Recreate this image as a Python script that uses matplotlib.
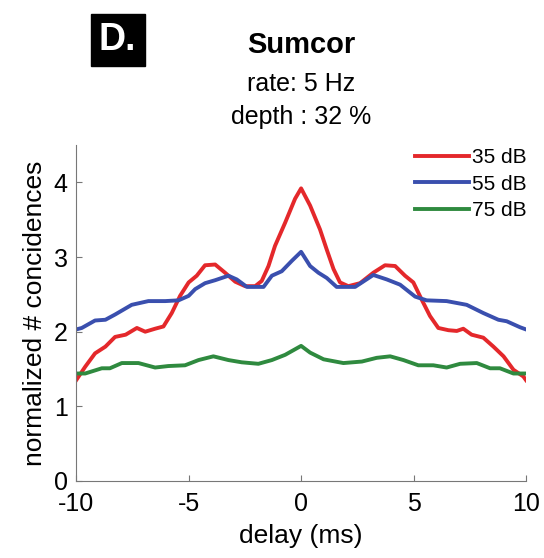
import matplotlib.pyplot as plt
import numpy as np

# delay axis (ms) and coincidence curves
x35 = [-10, -9.6, -9.16, -8.7, -8.27, -7.8, -7.3, -6.93, -6.49, -6.12, -5.75, -5.38, -5.0, -4.64,
       -4.27, -3.82, -3.38, -2.93, -2.49, -2.04, -1.75, -1.45, -1.16, -0.71, -0.27, 0.0,
       0.4, 0.84, 1.14, 1.44, 1.73, 2.1, 2.62, 3.21, 3.73, 4.18, 4.62, 4.99, 5.36, 5.73,
       6.1, 6.55, 6.92, 7.21, 7.58, 8.1, 8.55, 9.0, 9.44, 9.88, 10]
y35 = [1.35, 1.53, 1.71, 1.80, 1.93, 1.96, 2.05, 2.00, 2.04, 2.07, 2.25, 2.48, 2.66, 2.75,
       2.89, 2.90, 2.79, 2.67, 2.61, 2.61, 2.68, 2.88, 3.15, 3.46, 3.78, 3.92,
       3.69, 3.37, 3.10, 2.84, 2.66, 2.61, 2.65, 2.79, 2.89, 2.88, 2.75, 2.66, 2.43, 2.21,
       2.05, 2.02, 2.01, 2.04, 1.96, 1.92, 1.80, 1.67, 1.49, 1.40, 1.35]

x55 = [-10, -9.75, -9.16, -8.7, -8.27, -7.53, -6.79, -6.04, -5.45, -5.0, -4.71, -4.27, -3.82,
       -3.23, -2.86, -2.41, -2.04, -1.67, -1.3, -0.86, -0.41, 0.0,
       0.4, 0.77, 1.14, 1.58, 2.4, 3.21, 3.81, 4.4, 5.07, 5.58, 6.47, 7.36, 8.1, 8.77,
       9.14, 9.73, 10]
y55 = [2.03, 2.05, 2.15, 2.16, 2.23, 2.36, 2.41, 2.41, 2.42, 2.48, 2.57, 2.65, 2.69,
       2.75, 2.70, 2.60, 2.60, 2.60, 2.75, 2.81, 2.95, 3.07,
       2.88, 2.79, 2.72, 2.60, 2.60, 2.76, 2.70, 2.63, 2.47, 2.42, 2.41, 2.36, 2.25, 2.16,
       2.14, 2.06, 2.03]

x75 = [-10, -9.6, -8.86, -8.5, -7.97, -7.23, -6.49, -5.9, -5.16, -4.56, -3.9, -3.23, -2.64,
       -1.9, -1.3, -0.71, 0.0,
       0.4, 1.0, 1.88, 2.7, 3.36, 3.96, 4.55, 5.21, 5.88, 6.47, 7.07, 7.81, 8.4, 8.84,
       9.44, 10]
y75 = [1.44, 1.44, 1.51, 1.51, 1.58, 1.58, 1.52, 1.54, 1.55, 1.62, 1.67, 1.62, 1.59,
       1.57, 1.62, 1.69, 1.81,
       1.72, 1.63, 1.58, 1.60, 1.65, 1.67, 1.62, 1.55, 1.55, 1.52, 1.57, 1.58, 1.51, 1.51,
       1.44, 1.44]

plt.rcParams['font.family'] = ['Liberation Sans', 'DejaVu Sans']
plt.rcParams['axes.unicode_minus'] = False

fig = plt.figure(figsize=(5.44, 5.58), dpi=100)
ax = fig.add_axes([0.140, 0.138, 0.827, 0.602])

for xs, ys, c, lab in [(x35, y35, '#e4282b', '35 dB'),
                       (x55, y55, '#3a4fae', '55 dB'),
                       (x75, y75, '#2f8a3f', '75 dB')]:
    ax.plot(xs, ys, color=c, lw=2.8, label=lab, solid_joinstyle='round')

ax.set_xlim(-10, 10)
ax.set_ylim(0, 4.5)
ax.set_xticks([-10, -5, 0, 5, 10])
ax.set_yticks([0, 1, 2, 3, 4])
for s in ['top', 'right']:
    ax.spines[s].set_visible(False)
for s in ['left', 'bottom']:
    ax.spines[s].set_color('#777777')
ax.tick_params(direction='in', length=4, color='#777777', labelsize=18)
ax.tick_params(axis='x', pad=8)
ax.tick_params(axis='y', pad=6)
ax.set_xlabel('delay (ms)', fontsize=19, labelpad=6)
ax.set_ylabel('normalized # concidences', fontsize=19, labelpad=5)

ax.legend(loc='upper right', frameon=False, fontsize=15, handlelength=2.6,
          handletextpad=0.15, labelspacing=0.35, borderaxespad=0.0,
          bbox_to_anchor=(1.02, 1.015))

fig.text(0.553, 0.919, 'Sumcor', ha='center', va='center', fontsize=21, fontweight='bold')
fig.text(0.553, 0.849, 'rate: 5 Hz', ha='center', va='center', fontsize=18)
fig.text(0.553, 0.790, 'depth : 32 %', ha='center', va='center', fontsize=18)
fig.text(0.216, 0.928, 'D.', ha='center', va='center', fontsize=27, fontweight='bold',
         color='white',
         bbox=dict(boxstyle='square,pad=0.22', fc='black', ec='black'))

plt.savefig('out.png', dpi=100)
